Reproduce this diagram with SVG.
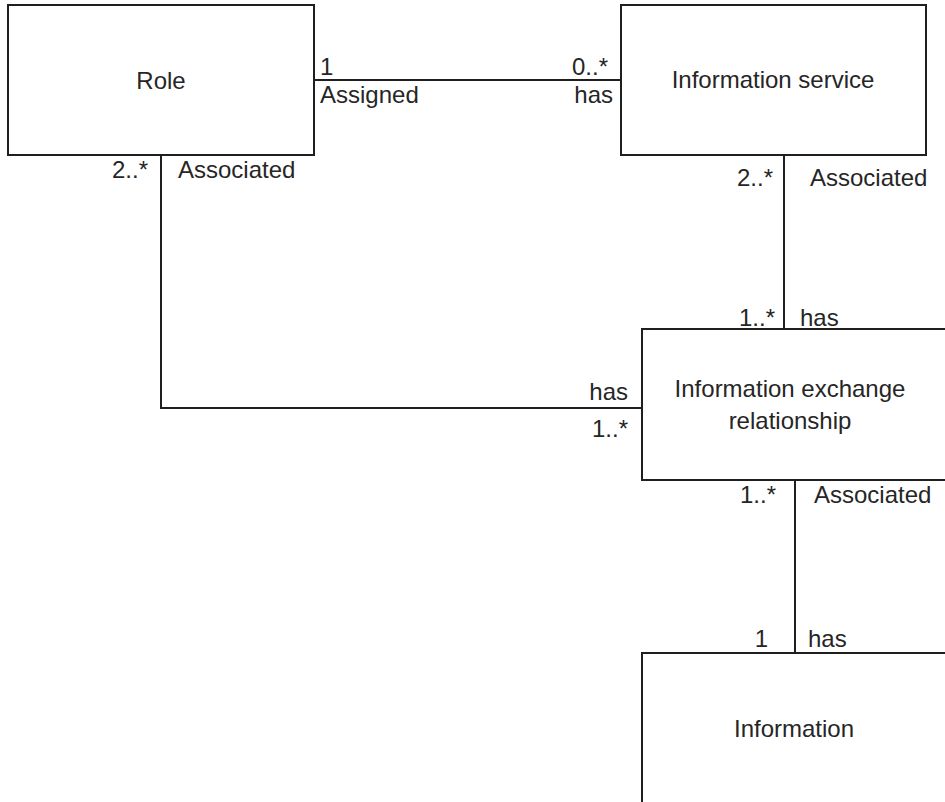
<svg xmlns="http://www.w3.org/2000/svg" width="945" height="802" viewBox="0 0 945 802">
  <style>
    .box { fill: #ffffff; stroke: #1f1f1f; stroke-width: 2; }
    .edge { fill: none; stroke: #1f1f1f; stroke-width: 2; }
    text { font-family: "Liberation Sans", Arial, sans-serif; font-size: 24px; fill: #262626; }
    .c { text-anchor: middle; }
    .r { text-anchor: end; }
  </style>
  <rect width="945" height="802" fill="#ffffff"/>

  <!-- connectors and their end labels -->
  <g id="connectors">
    <!-- Role — Information service -->
    <line class="edge" x1="314" y1="80" x2="621" y2="80"/>
    <text x="320" y="75">1</text>
    <text class="r" x="608" y="75">0..*</text>
    <text x="320" y="103">Assigned</text>
    <text class="r" x="613" y="103">has</text>

    <!-- Information service — Information exchange relationship -->
    <line class="edge" x1="784" y1="155" x2="784" y2="329"/>
    <text class="r" x="773" y="186">2..*</text>
    <text x="810" y="186">Associated</text>
    <text class="r" x="775" y="326">1..*</text>
    <text x="800" y="326">has</text>

    <!-- Role — Information exchange relationship -->
    <polyline class="edge" points="161,155 161,408 642,408"/>
    <text class="r" x="148" y="178">2..*</text>
    <text x="178" y="178">Associated</text>
    <text class="r" x="628" y="400">has</text>
    <text class="r" x="628" y="437">1..*</text>

    <!-- Information exchange relationship — Information -->
    <line class="edge" x1="795" y1="480" x2="795" y2="653"/>
    <text class="r" x="776" y="503">1..*</text>
    <text x="814" y="503">Associated</text>
    <text class="r" x="768" y="647">1</text>
    <text x="808" y="647">has</text>
  </g>

  <g id="role">
    <rect class="box" x="8" y="5" width="306" height="150"/>
    <text class="c" x="161" y="89">Role</text>
  </g>

  <g id="information-service">
    <rect class="box" x="621" y="5" width="305" height="150"/>
    <text class="c" x="773" y="88">Information service</text>
  </g>

  <g id="information-exchange-relationship">
    <rect class="box" x="642" y="329" width="320" height="151"/>
    <text class="c" x="790" y="397">Information exchange</text>
    <text class="c" x="790" y="429">relationship</text>
  </g>

  <g id="information">
    <rect class="box" x="642" y="653" width="320" height="170"/>
    <text class="c" x="794" y="737">Information</text>
  </g>
</svg>
